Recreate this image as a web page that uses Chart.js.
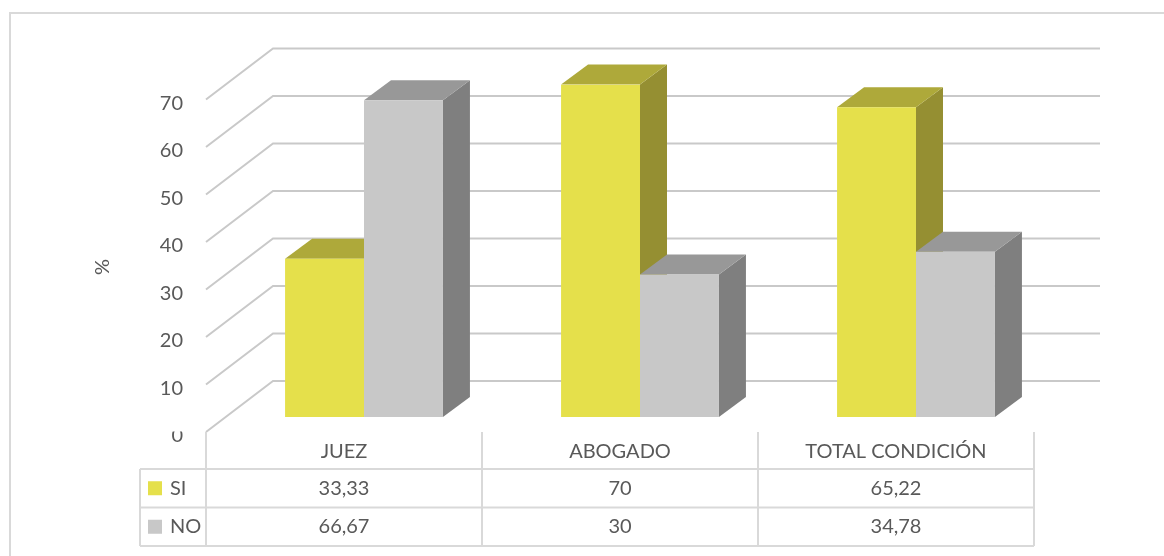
<!DOCTYPE html>
<html>
<head>
<meta charset="utf-8">
<script src="https://cdn.jsdelivr.net/npm/chart.js@4/dist/chart.umd.min.js"></script>
<style>
  body { margin: 0; background: #fff; }
  canvas { display: block; }
</style>
</head>
<body>
<canvas id="chart" width="1164" height="556"></canvas>
<script>
const categories = ['JUEZ', 'ABOGADO', 'TOTAL CONDICIÓN'];
const seriesNames = ['SI', 'NO'];
const siValues = [33.33, 70, 65.22];
const noValues = [66.67, 30, 34.78];
const yMin = 0;
const yMax = 70;
const yStep = 10;
const yTitle = '%';

// colours of the three visible faces of each box
const faces = [
    { front: '#e5e04b', top: '#aea93a', side: '#958f32' },
    { front: '#c8c8c8', top: '#989898', side: '#7f7f7f' }
];

// fake perspective: bar plane relative to the front edge, bar depth, back wall
const PLANE_DX = 20, PLANE_DY = 15;
const BAR_DX = 27, BAR_DY = 20;
const WALL_DX = 47, WALL_DY = 36;
const TEXT = '#595959';
const LINE = '#d9d9d9';

function poly(ctx, pts) {
    ctx.beginPath();
    ctx.moveTo(pts[0][0], pts[0][1]);
    pts.slice(1).forEach(p => ctx.lineTo(p[0], p[1]));
    ctx.closePath();
    ctx.fill();
}

const depthPlugin = {
    id: 'depth',
    beforeDatasetsDraw(chart) {
        const { ctx, chartArea: area, scales: { y } } = chart;
        ctx.save();

        // back wall gridlines with their slanted floor part
        ctx.strokeStyle = '#c9c9c9';
        ctx.lineWidth = 2;
        y.ticks.forEach(t => {
            const py = y.getPixelForValue(t.value);
            ctx.beginPath();
            ctx.moveTo(area.left - PLANE_DX, py + PLANE_DY);
            ctx.lineTo(area.left + WALL_DX, py - WALL_DY);
            ctx.lineTo(area.right + WALL_DX - 1, py - WALL_DY);
            ctx.stroke();
        });

        // top and side faces, painted left to right
        const boxes = [];
        chart.data.datasets.forEach((ds, i) => {
            chart.getDatasetMeta(i).data.forEach(bar => boxes.push({ bar, f: faces[i] }));
        });
        boxes.sort((a, b) => a.bar.x - b.bar.x);
        boxes.forEach(({ bar, f }) => {
            const l = bar.x - bar.width / 2;
            const r = bar.x + bar.width / 2;
            ctx.fillStyle = f.side;
            poly(ctx, [[r, bar.y], [r + BAR_DX, bar.y - BAR_DY], [r + BAR_DX, bar.base - BAR_DY], [r, bar.base]]);
            ctx.fillStyle = f.top;
            poly(ctx, [[l, bar.y], [l + BAR_DX, bar.y - BAR_DY], [r + BAR_DX, bar.y - BAR_DY], [r, bar.y]]);
        });
        ctx.restore();
    },
    afterDraw(chart) {
        const { ctx, scales: { x, y } } = chart;
        ctx.save();

        // the "0" label is cut off at its top in the original
        ctx.fillStyle = '#fff';
        ctx.fillRect(150, 418, 50, 13.5);

        // outer frame
        ctx.strokeStyle = LINE;
        ctx.lineWidth = 2;
        ctx.beginPath();
        ctx.moveTo(10, 556);
        ctx.lineTo(10, 13);
        ctx.lineTo(1164, 13);
        ctx.stroke();

        // axis title
        ctx.fillStyle = TEXT;
        ctx.font = '20px Lato';
        ctx.textAlign = 'center';
        ctx.textBaseline = 'middle';
        ctx.save();
        ctx.translate(103, 267);
        ctx.rotate(-Math.PI / 2);
        ctx.fillText(yTitle, 0, 0);
        ctx.restore();

        // data table under the plot
        const step = x.getPixelForValue(1) - x.getPixelForValue(0);
        const left = x.getPixelForValue(0) - step / 2 - PLANE_DX;
        const right = left + step * categories.length;
        const keyLeft = left - 66;
        const rows = [y.getPixelForValue(0) + PLANE_DY];
        rows.push(rows[0] + 37, rows[0] + 75.5, rows[0] + 114);

        ctx.strokeStyle = LINE;
        ctx.lineWidth = 2;
        ctx.beginPath();
        for (let i = 0; i <= categories.length; i++) {
            ctx.moveTo(left + step * i, rows[0]);
            ctx.lineTo(left + step * i, rows[3]);
        }
        ctx.moveTo(keyLeft, rows[1]);
        ctx.lineTo(keyLeft, rows[3]);
        [1, 2, 3].forEach(r => {
            ctx.moveTo(keyLeft, rows[r]);
            ctx.lineTo(right, rows[r]);
        });
        ctx.stroke();

        const rowData = [siValues, noValues];
        ctx.fillStyle = TEXT;
        categories.forEach((c, i) => {
            const cx = left + step * (i + 0.5);
            ctx.textAlign = 'center';
            ctx.fillText(c, cx, (rows[0] + rows[1]) / 2 + 1);
            rowData.forEach((vals, r) => {
                ctx.fillText(String(vals[i]).replace('.', ','), cx, (rows[r + 1] + rows[r + 2]) / 2);
            });
        });
        seriesNames.forEach((name, r) => {
            const cy = (rows[r + 1] + rows[r + 2]) / 2;
            ctx.fillStyle = faces[r].front;
            ctx.fillRect(keyLeft + 8, cy - 7, 14, 14);
            ctx.fillStyle = TEXT;
            ctx.textAlign = 'left';
            ctx.fillText(name, keyLeft + 30, cy);
        });
        ctx.restore();
    }
};

document.addEventListener('DOMContentLoaded', () => {
    Chart.defaults.font.family = 'Lato';

    const ctx = document.getElementById('chart').getContext('2d');
    new Chart(ctx, {
        type: 'bar',
        data: {
            labels: categories,
            datasets: [
                { label: seriesNames[0], data: siValues, backgroundColor: faces[0].front },
                { label: seriesNames[1], data: noValues, backgroundColor: faces[1].front }
            ]
        },
        options: {
            responsive: false,
            animation: false,
            layout: { padding: { left: 0, right: 110, top: 84.5, bottom: 139 } },
            categoryPercentage: 0.572,
            barPercentage: 1,
            plugins: {
                legend: { display: false },
                tooltip: { enabled: false }
            },
            scales: {
                x: { display: false },
                y: {
                    min: yMin,
                    max: yMax,
                    ticks: {
                        stepSize: yStep,
                        color: TEXT,
                        font: { size: 20 },
                        padding: 43,
                        labelOffset: 19
                    },
                    grid: { display: false, drawTicks: false },
                    border: { display: false },
                    afterFit: scale => { scale.width = 226; }
                }
            }
        },
        plugins: [depthPlugin]
    });
});
</script>
</body>
</html>
